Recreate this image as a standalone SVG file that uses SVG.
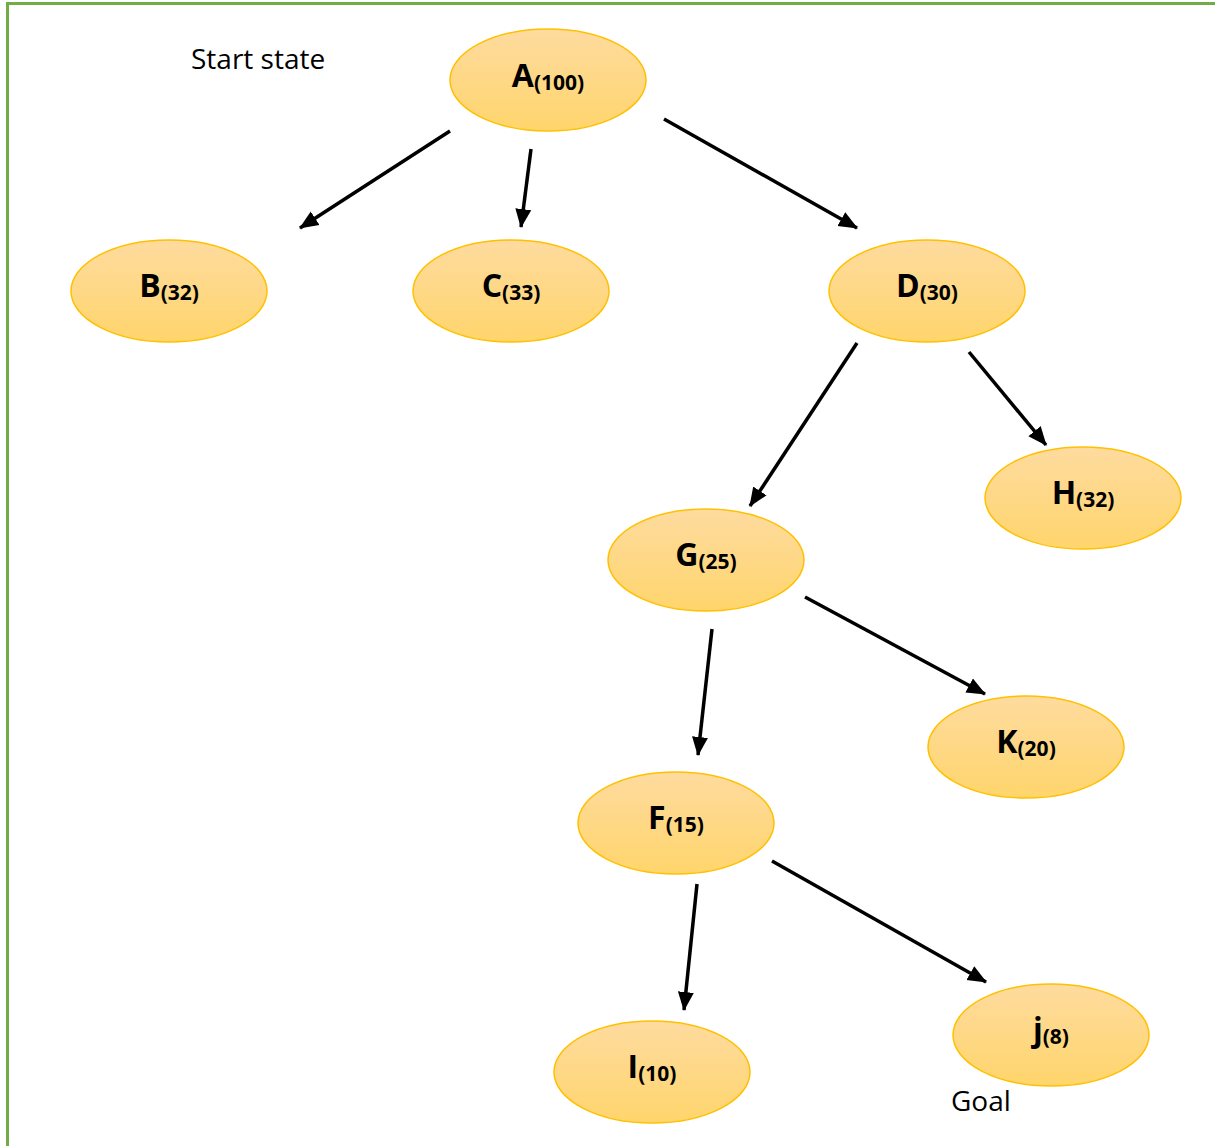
<svg xmlns="http://www.w3.org/2000/svg" width="1215" height="1146" viewBox="0 0 1215 1146">
<defs>
<linearGradient id="g" x1="0" y1="0" x2="0" y2="1">
<stop offset="0" stop-color="#fedb9f"/>
<stop offset="1" stop-color="#ffd56c"/>
</linearGradient>
<marker id="ah" markerUnits="userSpaceOnUse" markerWidth="20" markerHeight="18" viewBox="0 0 20 18" refX="18" refY="9" orient="auto">
<path d="M0,1 L19,9 L0,17 Z" fill="#000"/>
</marker>
<style>
.n{fill:url(#g);stroke:#ffc000;stroke-width:1.5}
.t{font-family:"Open Sans","Liberation Sans",sans-serif;font-weight:bold;fill:#000;text-anchor:middle}
.big{font-size:32px}
.sm{font-size:21px}
.lab{font-family:"Open Sans","Liberation Sans",sans-serif;font-size:28px;fill:#000}
.e{stroke:#000;stroke-width:3.5;fill:none;marker-end:url(#ah)}
</style>
</defs>
<rect width="1215" height="1146" fill="#fff"/>
<path d="M7.5,1146 V3.5 H1215" fill="none" stroke="#70ad47" stroke-width="3"/>
<text class="lab" x="191" y="69">Start state</text>
<text class="lab" x="951" y="1111">Goal</text>
<g id="connectors">
<line class="e" x1="450" y1="131" x2="300" y2="228"/>
<line class="e" x1="531" y1="149" x2="521" y2="227"/>
<line class="e" x1="664" y1="119" x2="857" y2="228"/>
<line class="e" x1="857" y1="343" x2="750" y2="506"/>
<line class="e" x1="969" y1="352" x2="1046" y2="445"/>
<line class="e" x1="712" y1="629" x2="698" y2="755"/>
<line class="e" x1="805" y1="597" x2="985" y2="694"/>
<line class="e" x1="697" y1="884" x2="684" y2="1010"/>
<line class="e" x1="772" y1="861" x2="986" y2="982"/>
</g>
<g id="A"><ellipse class="n" cx="548" cy="80" rx="98" ry="51"/><text class="t" x="548" y="87"><tspan class="big">A</tspan><tspan class="sm" dy="3">(100)</tspan></text></g>
<g id="B"><ellipse class="n" cx="169" cy="291" rx="98" ry="51"/><text class="t" x="169" y="297"><tspan class="big">B</tspan><tspan class="sm" dy="3">(32)</tspan></text></g>
<g id="C"><ellipse class="n" cx="511" cy="291" rx="98" ry="51"/><text class="t" x="511" y="297"><tspan class="big">C</tspan><tspan class="sm" dy="3">(33)</tspan></text></g>
<g id="D"><ellipse class="n" cx="927" cy="291" rx="98" ry="51"/><text class="t" x="927" y="297"><tspan class="big">D</tspan><tspan class="sm" dy="3">(30)</tspan></text></g>
<g id="H"><ellipse class="n" cx="1083" cy="498" rx="98" ry="51"/><text class="t" x="1083" y="504"><tspan class="big">H</tspan><tspan class="sm" dy="3">(32)</tspan></text></g>
<g id="G"><ellipse class="n" cx="706" cy="560" rx="98" ry="51"/><text class="t" x="706" y="566"><tspan class="big">G</tspan><tspan class="sm" dy="3">(25)</tspan></text></g>
<g id="K"><ellipse class="n" cx="1026" cy="747" rx="98" ry="51"/><text class="t" x="1026" y="753"><tspan class="big">K</tspan><tspan class="sm" dy="3">(20)</tspan></text></g>
<g id="F"><ellipse class="n" cx="676" cy="823" rx="98" ry="51"/><text class="t" x="676" y="829"><tspan class="big">F</tspan><tspan class="sm" dy="3">(15)</tspan></text></g>
<g id="I"><ellipse class="n" cx="652" cy="1072" rx="98" ry="51"/><text class="t" x="652" y="1078"><tspan class="big">I</tspan><tspan class="sm" dy="3">(10)</tspan></text></g>
<g id="J"><ellipse class="n" cx="1051" cy="1035" rx="98" ry="51"/><text class="t" x="1051" y="1041"><tspan class="big">j</tspan><tspan class="sm" dy="3">(8)</tspan></text></g>
</svg>
